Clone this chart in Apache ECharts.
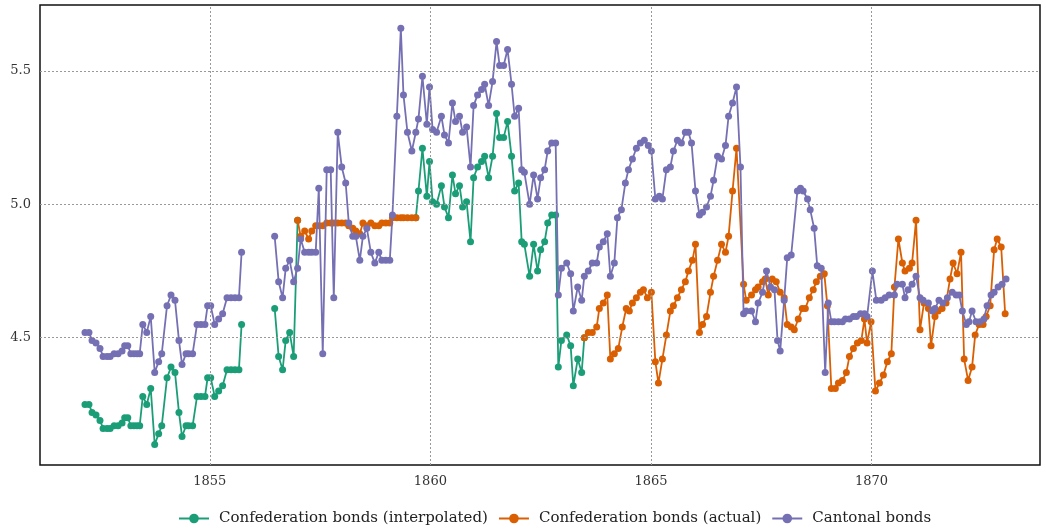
<!DOCTYPE html>
<html>
<head>
<meta charset="utf-8">
<script src="https://cdn.jsdelivr.net/npm/echarts@6/dist/echarts.min.js"></script>
<style>
html,body{margin:0;padding:0;background:#fff;}
#chart{width:1046px;height:530px;}
</style>
</head>
<body>
<div id="chart"></div>
<script>
// ---- tick labels ----
const xTicks = [1855, 1860, 1865, 1870];
const yTicks = [4.5, 5.0, 5.5];

// ---- series names ----
const seriesNames = ['Confederation bonds (interpolated)', 'Confederation bonds (actual)', 'Cantonal bonds'];

// ---- Confederation bonds (interpolated) ----
const interpSeg1 = [
  [1852.17,4.25],[1852.26,4.25],[1852.33,4.22],[1852.42,4.21],[1852.51,4.19],[1852.58,4.16],[1852.67,4.16],[1852.74,4.16],[1852.83,4.17],[1852.92,4.17],
  [1853.01,4.18],[1853.07,4.20],[1853.14,4.20],[1853.21,4.17],[1853.28,4.17],[1853.35,4.17],[1853.41,4.17],[1853.48,4.28],[1853.57,4.25],[1853.66,4.31],
  [1853.75,4.10],[1853.84,4.14],[1853.91,4.17],[1854.03,4.35],[1854.12,4.39],[1854.21,4.37],[1854.30,4.22],[1854.37,4.13],[1854.46,4.17],[1854.52,4.17],
  [1854.61,4.17],[1854.71,4.28],[1854.80,4.28],[1854.89,4.28],[1854.95,4.35],[1855.02,4.35],[1855.11,4.28],[1855.20,4.30],[1855.29,4.32],[1855.39,4.38],
  [1855.48,4.38],[1855.57,4.38],[1855.66,4.38],[1855.72,4.55]
];
const interpSeg2 = [
  [1856.47,4.61],[1856.56,4.43],[1856.65,4.38],[1856.72,4.49],[1856.81,4.52],[1856.90,4.43],[1856.99,4.94]
];
const interpSeg3 = [
  [1859.67,4.95],[1859.73,5.05],[1859.82,5.21],[1859.92,5.03],[1859.98,5.16],[1860.05,5.01],[1860.14,5.00],[1860.25,5.07],[1860.32,4.99],[1860.41,4.95],
  [1860.50,5.11],[1860.57,5.04],[1860.66,5.07],[1860.73,4.99],[1860.82,5.01],[1860.91,4.86],[1860.98,5.10],[1861.07,5.14],[1861.16,5.16],[1861.23,5.18],
  [1861.32,5.10],[1861.41,5.18],[1861.50,5.34],[1861.57,5.25],[1861.66,5.25],[1861.75,5.31],[1861.84,5.18],[1861.91,5.05],[1862.00,5.08],[1862.07,4.86],
  [1862.13,4.85],[1862.25,4.73],[1862.34,4.85],[1862.43,4.75],[1862.50,4.83],[1862.59,4.86],[1862.66,4.93],[1862.75,4.96],[1862.84,4.96],[1862.90,4.39],
  [1862.97,4.49],[1863.09,4.51],[1863.18,4.47],[1863.24,4.32],[1863.34,4.42],[1863.43,4.37],[1863.49,4.50]
];

// ---- Confederation bonds (actual) ----
const actualSeg1 = [
  [1856.99,4.94],[1857.06,4.88],[1857.15,4.90],[1857.24,4.87],[1857.31,4.90],[1857.40,4.92],[1857.47,4.92],[1857.56,4.92],[1857.65,4.93],[1857.74,4.93],
  [1857.81,4.93],[1857.90,4.93],[1857.99,4.93],[1858.08,4.93],[1858.15,4.92],[1858.24,4.91],[1858.31,4.90],[1858.40,4.89],[1858.47,4.93],[1858.56,4.92],
  [1858.65,4.93],[1858.74,4.92],[1858.83,4.92],[1858.90,4.93],[1858.99,4.93],[1859.08,4.93],[1859.14,4.95],[1859.24,4.95],[1859.33,4.95],[1859.39,4.95],
  [1859.48,4.95],[1859.58,4.95],[1859.67,4.95]
];
const actualSeg2 = [
  [1863.49,4.50],[1863.58,4.52],[1863.67,4.52],[1863.77,4.54],[1863.83,4.61],[1863.92,4.63],[1864.01,4.66],[1864.08,4.42],[1864.17,4.44],[1864.26,4.46],
  [1864.35,4.54],[1864.44,4.61],[1864.51,4.60],[1864.58,4.63],[1864.67,4.65],[1864.76,4.67],[1864.83,4.68],[1864.92,4.65],[1865.01,4.67],[1865.10,4.41],
  [1865.17,4.33],[1865.26,4.42],[1865.35,4.51],[1865.44,4.60],[1865.51,4.62],[1865.60,4.65],[1865.69,4.68],[1865.78,4.71],[1865.85,4.75],[1865.94,4.79],
  [1866.01,4.85],[1866.10,4.52],[1866.17,4.55],[1866.26,4.58],[1866.35,4.67],[1866.42,4.73],[1866.51,4.79],[1866.60,4.85],[1866.69,4.82],[1866.76,4.88],
  [1866.85,5.05],[1866.94,5.21],[1867.10,4.70],[1867.16,4.64],[1867.28,4.66],[1867.37,4.68],[1867.43,4.69],[1867.53,4.71],[1867.59,4.72],[1867.66,4.66],
  [1867.75,4.72],[1867.84,4.71],[1867.93,4.67],[1868.02,4.65],[1868.09,4.55],[1868.18,4.54],[1868.25,4.53],[1868.34,4.57],[1868.43,4.61],[1868.50,4.61],
  [1868.59,4.65],[1868.68,4.68],[1868.75,4.71],[1868.84,4.73],[1868.93,4.74],[1869.00,4.62],[1869.09,4.31],[1869.18,4.31],[1869.25,4.33],[1869.34,4.34],
  [1869.43,4.37],[1869.50,4.43],[1869.59,4.46],[1869.68,4.48],[1869.77,4.49],[1869.84,4.57],[1869.90,4.48],[1869.99,4.56],[1870.09,4.30],[1870.18,4.33],
  [1870.27,4.36],[1870.36,4.41],[1870.45,4.44],[1870.52,4.69],[1870.61,4.87],[1870.70,4.78],[1870.76,4.75],[1870.86,4.76],[1870.92,4.78],[1871.01,4.94],
  [1871.10,4.53],[1871.19,4.63],[1871.29,4.61],[1871.35,4.47],[1871.44,4.58],[1871.51,4.60],[1871.60,4.61],[1871.69,4.63],[1871.78,4.72],[1871.85,4.78],
  [1871.94,4.74],[1872.03,4.82],[1872.10,4.42],[1872.19,4.34],[1872.28,4.39],[1872.35,4.51],[1872.44,4.55],[1872.53,4.55],[1872.60,4.58],[1872.69,4.62],
  [1872.78,4.83],[1872.85,4.87],[1872.94,4.84],[1873.03,4.59]
];

// ---- Cantonal bonds ----
const cantonalSeg1 = [
  [1852.17,4.52],[1852.26,4.52],[1852.33,4.49],[1852.42,4.48],[1852.51,4.46],[1852.58,4.43],[1852.67,4.43],[1852.74,4.43],[1852.83,4.44],[1852.92,4.44],
  [1853.01,4.45],[1853.07,4.47],[1853.14,4.47],[1853.21,4.44],[1853.28,4.44],[1853.35,4.44],[1853.41,4.44],[1853.48,4.55],[1853.57,4.52],[1853.66,4.58],
  [1853.75,4.37],[1853.84,4.41],[1853.91,4.44],[1854.03,4.62],[1854.12,4.66],[1854.21,4.64],[1854.30,4.49],[1854.37,4.40],[1854.46,4.44],[1854.52,4.44],
  [1854.61,4.44],[1854.71,4.55],[1854.80,4.55],[1854.89,4.55],[1854.95,4.62],[1855.02,4.62],[1855.11,4.55],[1855.20,4.57],[1855.29,4.59],[1855.39,4.65],
  [1855.48,4.65],[1855.57,4.65],[1855.66,4.65],[1855.72,4.82]
];
const cantonalSeg2 = [
  [1856.47,4.88],[1856.56,4.71],[1856.65,4.65],[1856.72,4.76],[1856.81,4.79],[1856.90,4.71],[1856.99,4.76],[1857.06,4.87],[1857.15,4.82],[1857.24,4.82],
  [1857.31,4.82],[1857.40,4.82],[1857.47,5.06],[1857.56,4.44],[1857.65,5.13],[1857.74,5.13],[1857.81,4.65],[1857.90,5.27],[1857.99,5.14],[1858.08,5.08],
  [1858.15,4.93],[1858.24,4.88],[1858.31,4.88],[1858.40,4.79],[1858.47,4.88],[1858.56,4.91],[1858.65,4.82],[1858.74,4.78],[1858.83,4.82],[1858.90,4.79],
  [1858.99,4.79],[1859.08,4.79],[1859.14,4.96],[1859.24,5.33],[1859.33,5.66],[1859.39,5.41],[1859.48,5.27],[1859.58,5.20],[1859.67,5.27],[1859.73,5.32],
  [1859.82,5.48],[1859.92,5.30],[1859.98,5.44],[1860.05,5.28],[1860.14,5.27],[1860.25,5.33],[1860.32,5.26],[1860.41,5.23],[1860.50,5.38],[1860.57,5.31],
  [1860.66,5.33],[1860.73,5.27],[1860.82,5.29],[1860.91,5.14],[1860.98,5.37],[1861.07,5.41],[1861.16,5.43],[1861.23,5.45],[1861.32,5.37],[1861.41,5.46],
  [1861.50,5.61],[1861.57,5.52],[1861.66,5.52],[1861.75,5.58],[1861.84,5.45],[1861.91,5.33],[1862.00,5.36],[1862.07,5.13],[1862.13,5.12],[1862.25,5.00],
  [1862.34,5.11],[1862.43,5.02],[1862.50,5.10],[1862.59,5.13],[1862.66,5.20],[1862.75,5.23],[1862.84,5.23],[1862.90,4.66],[1862.97,4.76],[1863.09,4.78],
  [1863.18,4.74],[1863.24,4.60],[1863.34,4.69],[1863.43,4.64],[1863.49,4.73],[1863.58,4.75],[1863.67,4.78],[1863.77,4.78],[1863.83,4.84],[1863.92,4.86],
  [1864.01,4.89],[1864.08,4.73],[1864.17,4.78],[1864.24,4.95],[1864.33,4.98],[1864.42,5.08],[1864.49,5.13],[1864.58,5.17],[1864.67,5.21],[1864.76,5.23],
  [1864.85,5.24],[1864.94,5.22],[1865.01,5.20],[1865.10,5.02],[1865.19,5.03],[1865.26,5.02],[1865.35,5.13],[1865.44,5.14],[1865.51,5.20],[1865.60,5.24],
  [1865.69,5.23],[1865.78,5.27],[1865.85,5.27],[1865.92,5.23],[1866.01,5.05],[1866.10,4.96],[1866.17,4.97],[1866.26,4.99],[1866.35,5.03],[1866.42,5.09],
  [1866.51,5.18],[1866.60,5.17],[1866.69,5.22],[1866.76,5.33],[1866.85,5.38],[1866.94,5.44],[1867.03,5.14],[1867.10,4.59],[1867.16,4.60],[1867.28,4.60],
  [1867.37,4.56],[1867.43,4.63],[1867.53,4.67],[1867.62,4.75],[1867.71,4.69],[1867.80,4.68],[1867.87,4.49],[1867.93,4.45],[1868.02,4.64],[1868.09,4.80],
  [1868.18,4.81],[1868.32,5.05],[1868.39,5.06],[1868.45,5.05],[1868.55,5.02],[1868.61,4.98],[1868.70,4.91],[1868.77,4.77],[1868.86,4.76],[1868.95,4.37],
  [1869.02,4.63],[1869.09,4.56],[1869.16,4.56],[1869.25,4.56],[1869.34,4.56],[1869.41,4.57],[1869.50,4.57],[1869.59,4.58],[1869.66,4.58],[1869.75,4.59],
  [1869.84,4.59],[1869.90,4.58],[1870.02,4.75],[1870.11,4.64],[1870.22,4.64],[1870.31,4.65],[1870.40,4.66],[1870.52,4.66],[1870.58,4.70],[1870.70,4.70],
  [1870.76,4.65],[1870.83,4.68],[1870.92,4.70],[1871.01,4.73],[1871.10,4.65],[1871.17,4.64],[1871.29,4.63],[1871.38,4.60],[1871.44,4.61],[1871.53,4.64],
  [1871.62,4.63],[1871.72,4.65],[1871.83,4.67],[1871.92,4.66],[1871.99,4.66],[1872.06,4.60],[1872.15,4.55],[1872.21,4.56],[1872.28,4.60],[1872.37,4.56],
  [1872.46,4.56],[1872.55,4.57],[1872.62,4.62],[1872.71,4.66],[1872.78,4.67],[1872.87,4.69],[1872.96,4.70],[1873.05,4.72]
];

// gap markers (break lines between segments)
const gapInterp1 = [1856.1, null];
const gapInterp2 = [1858.3, null];
const gapActual = [1861.5, null];
const gapCantonal = [1856.1, null];

const colors = ['#1b9e77', '#d95f02', '#7570b3'];
const FONT = 'DejaVu Serif';

const interpData = [].concat(interpSeg1, [gapInterp1], interpSeg2, [gapInterp2], interpSeg3);
const actualData = [].concat(actualSeg1, [gapActual], actualSeg2);
const cantonalData = [].concat(cantonalSeg1, [gapCantonal], cantonalSeg2);

function lineSeries(name, data, color, z) {
  return {
    name: name, type: 'line', data: data, connectNulls: false,
    symbol: 'circle', symbolSize: 7, showSymbol: true,
    itemStyle: { color: color },
    lineStyle: { color: color, width: 1.8 },
    emphasis: { disabled: true },
    animation: false, z: z
  };
}

const chart = echarts.init(document.getElementById('chart'), null, { renderer: 'canvas' });
chart.setOption({
  animation: false,
  backgroundColor: '#ffffff',
  textStyle: { fontFamily: FONT },
  grid: { left: 40, right: 6, top: 5, bottom: 65, show: true, borderColor: '#111', borderWidth: 1.5, backgroundColor: 'transparent' },
  xAxis: {
    type: 'value', min: 1851.15, max: 1873.82,
    axisLine: { show: false }, axisTick: { show: false }, splitLine: { show: false },
    axisLabel: { customValues: xTicks, formatter: v => String(v), fontFamily: FONT, fontSize: 13, color: '#333', margin: 10 }
  },
  yAxis: {
    type: 'value', min: 4.023, max: 5.747,
    axisLine: { show: false }, axisTick: { show: false }, splitLine: { show: false },
    axisLabel: { customValues: yTicks, formatter: v => v.toFixed(1), fontFamily: FONT, fontSize: 13, color: '#333', margin: 9 }
  },
  legend: {
    data: seriesNames, top: 506, left: 173, itemWidth: 30, itemHeight: 12, itemGap: 10,
    textStyle: { fontFamily: FONT, fontSize: 15, color: '#222', padding: [0, 0, 0, 5] }
  },
  series: [
    {
      name: 'grid', type: 'line', data: [], silent: true, z: 1,
      markLine: {
        silent: true, symbol: 'none', animation: false,
        label: { show: false },
        lineStyle: { type: [2, 2], color: '#999', width: 1 },
        emphasis: { disabled: true },
        data: xTicks.map(v => ({ xAxis: v })).concat(yTicks.map(v => ({ yAxis: v })))
      }
    },
    lineSeries(seriesNames[0], interpData, colors[0], 2),
    lineSeries(seriesNames[1], actualData, colors[1], 3),
    lineSeries(seriesNames[2], cantonalData, colors[2], 4)
  ]
});
</script>
</body>
</html>
